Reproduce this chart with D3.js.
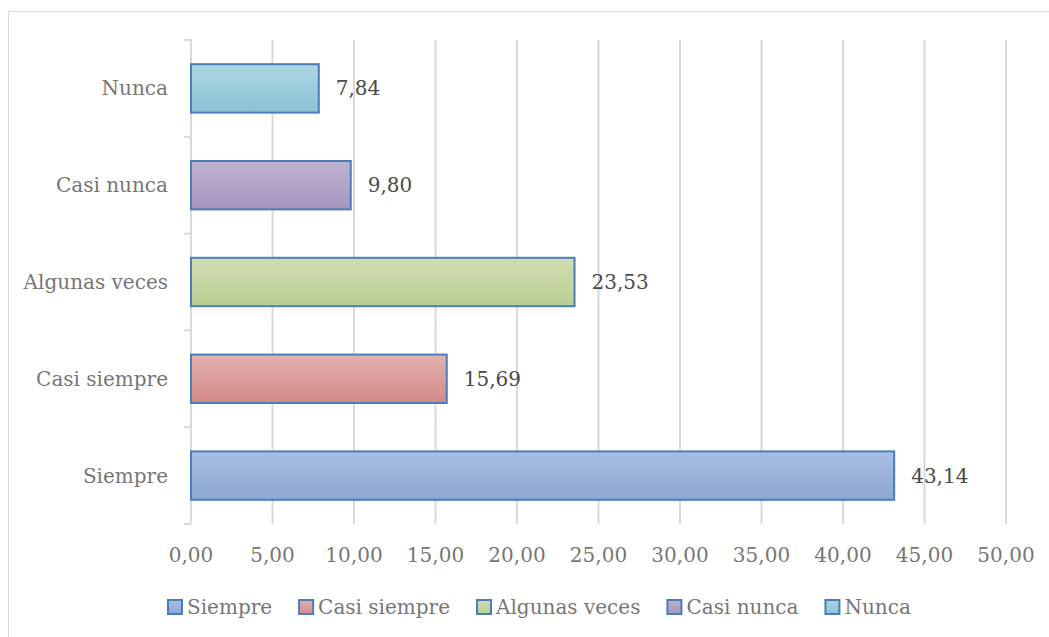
<!DOCTYPE html>
<html>
<head>
<meta charset="utf-8">
<script src="https://cdn.jsdelivr.net/npm/d3@7"></script>
<style>
  body { margin: 0; background: #fff; }
  svg { display: block; }
  text { font-family: "DejaVu Serif", "Liberation Serif", serif; }
</style>
</head>
<body>
<div id="chart"></div>
<script>
var categories = ["Siempre", "Casi siempre", "Algunas veces", "Casi nunca", "Nunca"];
var values = [43.14, 15.69, 23.53, 9.80, 7.84];
var topColors = ["#aabde1", "#e2b1b0", "#d0dcb2", "#bfb2d1", "#acd6e2"];
var bottomColors = ["#8ca8d5", "#d48a89", "#bacf93", "#a795bf", "#8bc3d5"];
var xTicks = [0, 5, 10, 15, 20, 25, 30, 35, 40, 45, 50];

var W = 1049, H = 637;
var margin = {top: 40, left: 191, right: 43, bottom: 113};
var width = W - margin.left - margin.right,
    height = H - margin.top - margin.bottom;
var fs = 20;

var fmt = function(v) { return v.toFixed(2).replace(".", ","); };

var svg = d3.select("#chart").append("svg")
    .attr("width", W)
    .attr("height", H);

// chart frame
svg.append("rect")
    .attr("x", 8.5).attr("y", 11.5)
    .attr("width", W + 10).attr("height", H + 10)
    .attr("fill", "none")
    .attr("stroke", "#d9d9d9")
    .attr("stroke-width", 1);

var defs = svg.append("defs");
categories.forEach(function(c, i) {
    var g = defs.append("linearGradient")
        .attr("id", "grad" + i)
        .attr("x1", 0).attr("y1", 0).attr("x2", 0).attr("y2", 1);
    g.append("stop").attr("offset", "0%").attr("stop-color", topColors[i]);
    g.append("stop").attr("offset", "100%").attr("stop-color", bottomColors[i]);
});

var g = svg.append("g")
    .attr("transform", "translate(" + margin.left + "," + margin.top + ")");

var x = d3.scaleLinear().domain([0, 50]).range([0, width]);
var y = d3.scaleBand().domain(categories.slice().reverse()).range([0, height]).paddingInner(0.5).paddingOuter(0.25);
var yTickScale = d3.scaleLinear().domain([0, categories.length]).range([0, height]);

// gridlines
g.selectAll(".grid")
    .data(xTicks.slice(1))
    .enter().append("line")
    .attr("x1", function(d) { return x(d); })
    .attr("x2", function(d) { return x(d); })
    .attr("y1", 0).attr("y2", height)
    .attr("stroke", "#d9d9d9")
    .attr("stroke-width", 2);

// y axis line + ticks
g.append("line")
    .attr("x1", 0).attr("x2", 0).attr("y1", 0).attr("y2", height)
    .attr("stroke", "#d9d9d9").attr("stroke-width", 2);
g.selectAll(".ytick")
    .data(d3.range(categories.length + 1))
    .enter().append("line")
    .attr("x1", -7).attr("x2", 0)
    .attr("y1", function(d) { return yTickScale(d); })
    .attr("y2", function(d) { return yTickScale(d); })
    .attr("stroke", "#d9d9d9").attr("stroke-width", 2);

// bars
g.selectAll(".bar")
    .data(values)
    .enter().append("rect")
    .attr("x", x(0))
    .attr("y", function(d, i) { return y(categories[i]); })
    .attr("width", function(d) { return x(d) - x(0); })
    .attr("height", y.bandwidth())
    .attr("fill", function(d, i) { return "url(#grad" + i + ")"; })
    .attr("stroke", "#4a7ebb")
    .attr("stroke-width", 2);

// data labels
g.selectAll(".lbl")
    .data(values)
    .enter().append("text")
    .attr("x", function(d) { return x(d) + 17; })
    .attr("y", function(d, i) { return y(categories[i]) + y.bandwidth() / 2; })
    .attr("dy", "0.35em")
    .attr("font-size", fs)
    .attr("fill", "#4a4a4a")
    .text(function(d) { return fmt(d); });

// category labels
g.selectAll(".cat")
    .data(categories)
    .enter().append("text")
    .attr("x", -23)
    .attr("y", function(d) { return y(d) + y.bandwidth() / 2; })
    .attr("dy", "0.35em")
    .attr("text-anchor", "end")
    .attr("font-size", fs)
    .attr("fill", "#767676")
    .text(function(d) { return d; });

// x tick labels
g.selectAll(".xt")
    .data(xTicks)
    .enter().append("text")
    .attr("x", function(d) { return x(d); })
    .attr("y", height + 31)
    .attr("dy", "0.35em")
    .attr("text-anchor", "middle")
    .attr("font-size", fs)
    .attr("fill", "#767676")
    .text(function(d) { return fmt(d); });

// legend
var legend = svg.append("g").attr("transform", "translate(0,607)");
var lx = 168;
categories.forEach(function(c, i) {
    var item = legend.append("g").attr("transform", "translate(" + lx + ",0)");
    item.append("rect")
        .attr("x", 0).attr("y", -7)
        .attr("width", 14).attr("height", 14)
        .attr("fill", "url(#grad" + i + ")")
        .attr("stroke", "#4a7ebb").attr("stroke-width", 2);
    var t = item.append("text")
        .attr("x", 19).attr("dy", "0.35em")
        .attr("font-size", fs)
        .attr("fill", "#767676")
        .text(c);
    lx += 19 + t.node().getComputedTextLength() + 27;
});
</script>
</body>
</html>
